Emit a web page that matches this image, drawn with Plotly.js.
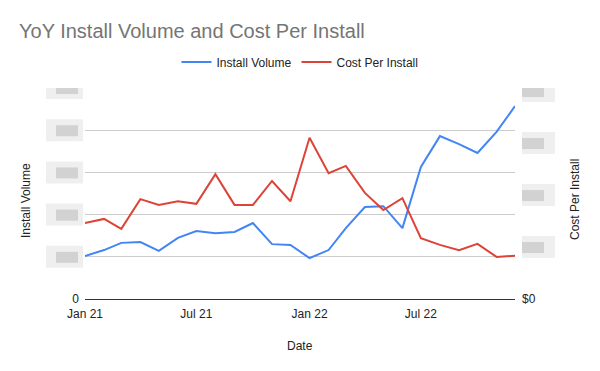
<!DOCTYPE html>
<html>
<head>
<meta charset="utf-8">
<script src="https://cdn.plot.ly/plotly-3.0.1.min.js"></script>
<style>html,body{margin:0;padding:0;background:#fff}#chart{width:600px;height:371px}</style>
</head>
<body>
<div id="chart"></div>
<script>
// Monthly dates Jan 2021 - Dec 2022
var dates = ["2021-01-01","2021-02-01","2021-03-01","2021-04-01","2021-05-01","2021-06-01",
             "2021-07-01","2021-08-01","2021-09-01","2021-10-01","2021-11-01","2021-12-01",
             "2022-01-01","2022-02-01","2022-03-01","2022-04-01","2022-05-01","2022-06-01",
             "2022-07-01","2022-08-01","2022-09-01","2022-10-01","2022-11-01","2022-12-01"];
// Install volume (left axis, hidden units)
var installVolume = [1.02,1.16,1.33,1.35,1.14,1.45,1.61,1.56,1.59,1.80,1.30,1.28,
                     0.97,1.16,1.68,2.18,2.20,1.68,3.13,3.86,3.67,3.46,3.96,4.57];
// Cost per install (right axis, hidden units)
var costPerInstall = [1.46,1.54,1.35,1.92,1.81,1.88,1.83,2.40,1.81,1.81,2.27,1.88,
                      3.10,2.42,2.56,2.04,1.71,1.94,1.17,1.04,0.94,1.06,0.81,0.83];
var xTickVals = ["2021-01-01","2021-07-01","2022-01-01","2022-07-01"];
var xTickText = ["Jan 21","Jul 21","Jan 22","Jul 22"];
var leftTickVals = [0,1,2,3,4,5];
var leftTickText = ["0","","","","",""];
var rightTickVals = [0,1,2,3,4];
var rightTickText = ["$0","","","",""];

var FONT = "Arial, 'Liberation Sans', sans-serif";
var leftMax = 5, rightMax = 211/52;

var traces = [
  {x: dates, y: installVolume, name: "Install Volume", type: "scatter", mode: "lines",
   line: {color: "#4285F4", width: 2}, yaxis: "y"},
  {x: dates, y: costPerInstall, name: "Cost Per Install", type: "scatter", mode: "lines",
   line: {color: "#DB4437", width: 2}, yaxis: "y2"}
];

// blurred (redacted) tick-label placeholders
var shapes = [];
function blob(yref, v, halfUnits, xo0, xo1, xi0, xi1) {
  shapes.push({type:"rect", xref:"paper", yref:yref, x0:xo0, x1:xo1, y0:v-halfUnits, y1:v+halfUnits,
               fillcolor:"#efefef", line:{width:0}, layer:"below"});
  shapes.push({type:"rect", xref:"paper", yref:yref, x0:xi0, x1:xi1, y0:v-halfUnits*0.55, y1:v+halfUnits*0.45,
               fillcolor:"#d2d2d2", line:{width:0}, layer:"below"});
}
leftTickVals.slice(1).forEach(function(v){ blob("y", v, 11/42.2, -0.0907, -0.0047, -0.0674, -0.0163); });
rightTickVals.slice(1).forEach(function(v){ blob("y2", v, 11/52, 1.0163, 1.093, 1.0163, 1.0674); });

var layout = {
  width: 600, height: 371,
  margin: {l: 85, r: 85, t: 88, b: 72},
  paper_bgcolor: "#ffffff", plot_bgcolor: "#ffffff",
  font: {family: FONT, size: 12, color: "#222222"},
  title: {text: "YoY Install Volume and Cost Per Install", font: {family: FONT, size: 20, color: "#757575"},
          x: 19/600, xref: "container", xanchor: "left", y: 1-31/371, yref: "container", yanchor: "middle"},
  showlegend: true,
  legend: {orientation: "h", x: 0.5, xanchor: "center", y: (299-62)/211, yanchor: "middle",
           font: {family: FONT, size: 12, color: "#222222"}, itemwidth: 30, tracegroupgap: 0},
  xaxis: {type: "date", range: [dates[0], dates[dates.length-1]], tickvals: xTickVals, ticktext: xTickText,
          showgrid: false, zeroline: false, showline: true, linecolor: "#333333", linewidth: 1,
          ticks: "", ticklabelstandoff: 4, tickfont: {family: FONT, size: 12, color: "#222222"}, fixedrange: true},
  yaxis: {range: [0, leftMax], tickvals: leftTickVals, ticktext: leftTickText, showgrid: true,
          gridcolor: "#cccccc", gridwidth: 1, zeroline: false, showline: false, ticks: "", ticklabelstandoff: 5,
          tickfont: {family: FONT, size: 12, color: "#222222"}, fixedrange: true},
  yaxis2: {range: [0, rightMax], tickvals: rightTickVals, ticktext: rightTickText, overlaying: "y",
           side: "right", showgrid: false, zeroline: false, showline: false, ticks: "", ticklabelstandoff: 6,
           tickfont: {family: FONT, size: 12, color: "#222222"}, fixedrange: true},
  shapes: shapes,
  annotations: [
    {text: "Date", xref: "paper", yref: "paper", x: 0.5, y: (299-346)/211, xanchor: "center", yanchor: "middle",
     showarrow: false, font: {family: FONT, size: 12, color: "#222222"}},
    {text: "Install Volume", xref: "paper", yref: "paper", x: (26-85)/430, y: (299-201)/211, xanchor: "center",
     yanchor: "middle", textangle: -90, showarrow: false, font: {family: FONT, size: 12, color: "#222222"}},
    {text: "Cost Per Install", xref: "paper", yref: "paper", x: (575-85)/430, y: (299-200)/211, xanchor: "center",
     yanchor: "middle", textangle: -90, showarrow: false, font: {family: FONT, size: 12, color: "#222222"}}
  ]
};

Plotly.newPlot("chart", traces, layout, {displayModeBar: false, staticPlot: true});
</script>
</body>
</html>
